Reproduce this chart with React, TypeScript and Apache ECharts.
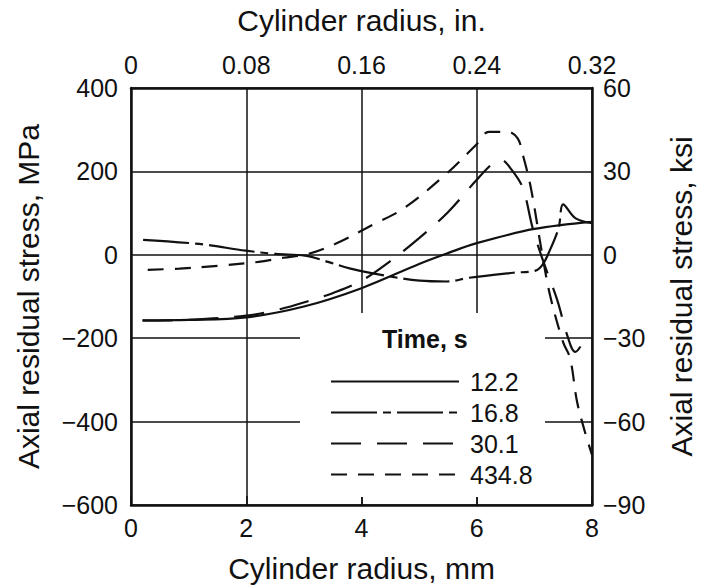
import React, { useEffect, useRef } from "react";
import * as echarts from "echarts";

// ---- tick values ----
const mmTicks = [0, 2, 4, 6, 8];
const inchTicks = [0, 0.08, 0.16, 0.24, 0.32];
const mpaTicks = [-600, -400, -200, 0, 200, 400];
const ksiTicks = [-90, -60, -30, 0, 30, 60];

// ---- series: cooling time (s) ----
const seriesNames = ["12.2", "16.8", "30.1", "434.8"];

// radius (mm) and axial residual stress (MPa)
const r12 = [0.2, 1.0, 2.0, 3.0, 4.0, 5.0, 5.5, 6.0, 7.0, 8.0];
const s12 = [-157, -156, -150, -124, -80, -22, 4, 28, 62, 79];

const r16 = [0.21, 1.18, 1.99, 2.51, 3.02, 3.42, 3.81, 4.22, 5.01, 5.48, 5.87, 6.63, 7.02, 7.14, 7.24, 7.42, 7.5, 7.71, 8.0];
const s16 = [36, 26, 10, 2, -2, -17, -33, -45, -62, -64, -55, -43, -38, -24, 2, 64, 121, 88, 76];

const r30 = [0.2, 1.0, 2.0, 2.6, 3.1, 3.5, 4.0, 4.5, 5.0, 5.5, 6.0, 6.3, 6.42, 6.6, 6.8, 6.97, 7.14, 7.4, 7.57, 7.71, 7.88, 8.0];
const s30 = [-158, -156, -146, -130, -110, -92, -62, -15, 40, 102, 180, 222, 228, 205, 160, 64, -10, -110, -193, -233, -205, -195];

const r434 = [0.29, 0.84, 1.53, 2.21, 2.64, 3.07, 3.54, 4.22, 4.74, 5.48, 5.99, 6.21, 6.54, 6.71, 6.8, 6.94, 7.14, 7.28, 7.5, 7.62, 7.74, 7.88, 8.0];
const s434 = [-36, -33, -26, -17, -7, 2, 26, 74, 112, 195, 264, 295, 295, 279, 240, 160, -2, -102, -210, -248, -352, -426, -480];

const INK = "#111111";
const FONT = '"Liberation Sans", Arial, Helvetica, sans-serif';

const pairs = (xs: number[], ys: number[]) => xs.map((x, i) => [x, ys[i]]);
const minus = (v: number) => (v < 0 ? "\u2212" + Math.abs(v) : String(v));

export default function App() {
  const ref = useRef<HTMLDivElement>(null);

  useEffect(() => {
    if (!ref.current) return;
    const chart = echarts.init(ref.current, null, { renderer: "svg" });

    const axisLine = { show: true, onZero: false, lineStyle: { color: INK, width: 2.5 } };
    const labelStyle = { color: INK, fontSize: 25, fontFamily: FONT };
    const nameStyle = { color: INK, fontSize: 30, fontFamily: FONT };

    const lineSeries = (name: string, xs: number[], ys: number[], type: any) => ({
      type: "line",
      name,
      data: pairs(xs, ys),
      xAxisIndex: 0,
      yAxisIndex: 0,
      symbol: "none",
      showSymbol: false,
      smooth: 0.35,
      lineStyle: { color: INK, width: 2.2, type },
      itemStyle: { color: INK },
      z: 3,
    });

    const option: any = {
      animation: false,
      textStyle: { fontFamily: FONT, color: INK },
      grid: { left: 131, right: 107, top: 87, bottom: 81, containLabel: false },
      xAxis: [
        {
          type: "value",
          position: "bottom",
          min: mmTicks[0],
          max: mmTicks[mmTicks.length - 1],
          interval: 2,
          name: "Cylinder radius, mm",
          nameLocation: "middle",
          nameGap: 48,
          nameTextStyle: nameStyle,
          axisLine,
          axisTick: { show: true, inside: true, length: 9, lineStyle: { color: INK, width: 1.5 } },
          axisLabel: { ...labelStyle, margin: 10, formatter: (v: number) => String(v) },
          splitLine: { show: true, lineStyle: { color: INK, width: 1.5 } },
        },
        {
          type: "value",
          position: "top",
          min: inchTicks[0],
          max: inchTicks[inchTicks.length - 1],
          interval: 0.08,
          name: "Cylinder radius, in.",
          nameLocation: "middle",
          nameGap: 53,
          nameTextStyle: nameStyle,
          axisLine,
          axisTick: { show: false },
          axisLabel: {
            ...labelStyle,
            margin: 11,
            formatter: (v: number) => (v === 0 ? "0" : v.toFixed(2)),
          },
          splitLine: { show: false },
        },
      ],
      yAxis: [
        {
          type: "value",
          position: "left",
          min: mpaTicks[0],
          max: mpaTicks[mpaTicks.length - 1],
          interval: 200,
          name: "Axial residual stress, MPa",
          nameLocation: "middle",
          nameRotate: 90,
          nameGap: 88,
          nameTextStyle: nameStyle,
          axisLine,
          axisTick: { show: false },
          axisLabel: { ...labelStyle, margin: 13, formatter: minus },
          splitLine: { show: true, lineStyle: { color: INK, width: 1.5 } },
        },
        {
          type: "value",
          position: "right",
          min: ksiTicks[0],
          max: ksiTicks[ksiTicks.length - 1],
          interval: 30,
          name: "Axial residual stress, ksi",
          nameLocation: "middle",
          nameRotate: 90,
          nameGap: 74,
          nameTextStyle: nameStyle,
          axisLine,
          axisTick: { show: false },
          axisLabel: { ...labelStyle, margin: 11, formatter: minus },
          splitLine: { show: false },
        },
      ],
      legend: {
        orient: "vertical",
        left: 325,
        top: 364,
        itemWidth: 128,
        itemHeight: 14,
        itemGap: 6,
        selectedMode: false,
        itemStyle: { color: "rgba(0,0,0,0)", borderWidth: 0, opacity: 0 },
        textStyle: { color: INK, fontSize: 25, fontFamily: FONT, padding: [0, 0, 0, 6] },
        data: seriesNames,
      },
      graphic: [
        {
          type: "rect",
          silent: true,
          z: 1,
          shape: { x: 300, y: 313, width: 245, height: 184 },
          style: { fill: "#ffffff" },
        },
        {
          type: "text",
          silent: true,
          z: 5,
          x: 382,
          y: 339,
          style: {
            text: "Time, s",
            fill: INK,
            fontSize: 25,
            fontWeight: "bold",
            fontFamily: FONT,
            verticalAlign: "middle",
          },
        },
      ],
      series: [
        lineSeries(seriesNames[0], r12, s12, "solid"),
        lineSeries(seriesNames[1], r16, s16, [46, 6, 8, 6]),
        lineSeries(seriesNames[2], r30, s30, [30, 16]),
        lineSeries(seriesNames[3], r434, s434, [16, 11]),
      ],
    };

    chart.setOption(option);
    return () => chart.dispose();
  }, []);

  return (
    <div
      ref={ref}
      style={{ position: "absolute", left: 0, top: 0, width: 704, height: 588, background: "#fff" }}
    />
  );
}
